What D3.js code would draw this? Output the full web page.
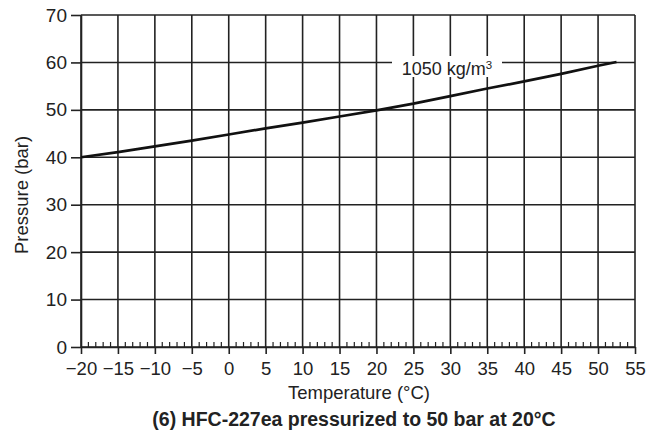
<!DOCTYPE html>
<html>
<head>
<meta charset="utf-8">
<script src="https://cdn.jsdelivr.net/npm/d3@7"></script>
<style>
  html, body { margin: 0; padding: 0; background: #fff; }
  text { font-family: "Liberation Sans", Arial, Helvetica, sans-serif; fill: #222; }
</style>
</head>
<body>
<svg id="chart" width="661" height="437"></svg>
<script>
// ---- data ----
const temperatures = [-20, -15, -10, -5, 0, 5, 10, 15, 20, 25, 30, 35, 40, 45, 50, 52.5];
const pressures    = [40.0, 41.1, 42.3, 43.5, 44.8, 46.1, 47.3, 48.6, 49.9, 51.3, 52.9, 54.5, 56.0, 57.6, 59.3, 60.1];
const xTicks = [-20, -15, -10, -5, 0, 5, 10, 15, 20, 25, 30, 35, 40, 45, 50, 55];
const yTicks = [0, 10, 20, 30, 40, 50, 60, 70];
const curveLabel = "1050 kg/m";
const xTitle = "Temperature (°C)";
const yTitle = "Pressure (bar)";
const caption = "(6) HFC-227ea pressurized to 50 bar at 20°C";

// ---- layout ----
const svg = d3.select("#chart");
const pLeft = 81, pRight = 635, pTop = 15, pBottom = 347;
const x = d3.scaleLinear().domain([-20, 55]).range([pLeft, pRight]);
const y = d3.scaleLinear().domain([0, 70]).range([pBottom, pTop]);
const ink = "#222";

// grid
const grid = svg.append("g");
grid.selectAll("line.v").data(xTicks).enter().append("line")
  .attr("x1", d => x(d)).attr("x2", d => x(d))
  .attr("y1", pTop).attr("y2", pBottom)
  .attr("stroke", ink).attr("stroke-width", 1.6);
grid.selectAll("line.h").data(yTicks).enter().append("line")
  .attr("x1", pLeft).attr("x2", pRight)
  .attr("y1", d => y(d)).attr("y2", d => y(d))
  .attr("stroke", ink).attr("stroke-width", 1.6);

// x axis
const xAxis = d3.axisBottom(x).tickValues(xTicks).tickSize(7).tickSizeOuter(0)
  .tickFormat(d3.format("d"));
const gx = svg.append("g").attr("transform", `translate(0,${pBottom})`).call(xAxis);
gx.select(".domain").attr("stroke", ink).attr("stroke-width", 1.6);
gx.selectAll(".tick line").attr("stroke", ink).attr("stroke-width", 1.6);
gx.selectAll(".tick text").attr("font-size", 18.5).attr("dy", "0.95em").style("fill", ink)
  .attr("font-family", "'Liberation Sans', Arial, sans-serif");

// minor x ticks (upwards)
const minor = d3.range(-20, 55.5, 1).filter(d => d % 5 !== 0);
svg.append("g").selectAll("line").data(minor).enter().append("line")
  .attr("x1", d => x(d)).attr("x2", d => x(d))
  .attr("y1", pBottom).attr("y2", pBottom - 5)
  .attr("stroke", ink).attr("stroke-width", 1.2);

// y axis
const yAxis = d3.axisLeft(y).tickValues(yTicks).tickSize(10).tickSizeOuter(0)
  .tickFormat(d3.format("d"));
const gy = svg.append("g").attr("transform", `translate(${pLeft},0)`).call(yAxis);
gy.select(".domain").attr("stroke", ink).attr("stroke-width", 1.6);
gy.selectAll(".tick line").attr("stroke", ink).attr("stroke-width", 1.6);
gy.selectAll(".tick text").attr("font-size", 19).attr("x", -14).style("fill", ink)
  .attr("font-family", "'Liberation Sans', Arial, sans-serif");

// curve label background & text
svg.append("rect").attr("x", 392).attr("y", 56).attr("width", 110).attr("height", 21).attr("fill", "#fff");
const lbl = svg.append("text").attr("x", 447).attr("y", 75).attr("text-anchor", "middle")
  .attr("font-size", 18);
lbl.append("tspan").text(curveLabel);
lbl.append("tspan").text("3").attr("font-size", 11.5).attr("dy", -6.5);

// curve
const line = d3.line().x((d, i) => x(temperatures[i])).y(d => y(d));
svg.append("path").datum(pressures).attr("d", line)
  .attr("fill", "none").attr("stroke", "#111").attr("stroke-width", 2.7);

// titles
svg.append("text").attr("x", 359).attr("y", 399).attr("text-anchor", "middle")
  .attr("font-size", 18.5).text(xTitle);
svg.append("text").attr("transform", `translate(28,195) rotate(-90)`)
  .attr("text-anchor", "middle").attr("font-size", 18.5).text(yTitle);
svg.append("text").attr("x", 354).attr("y", 426).attr("text-anchor", "middle")
  .attr("font-size", 19.5).attr("font-weight", "bold").text(caption);
</script>
</body>
</html>
